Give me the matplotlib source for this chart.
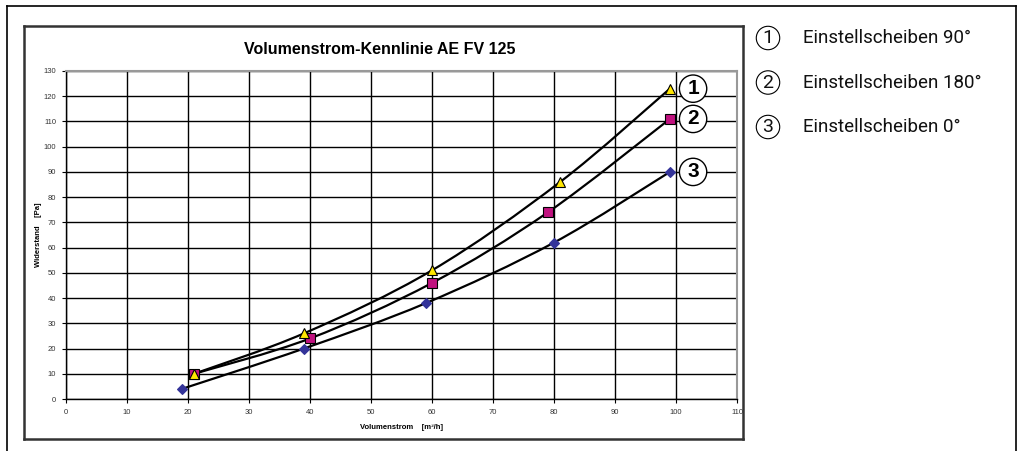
import matplotlib.pyplot as plt
import numpy as np
from matplotlib.path import Path
from matplotlib.patches import PathPatch
from matplotlib.lines import Line2D

# data
x_90 = [21, 39, 60, 81, 99]
y_90 = [10, 26, 51, 86, 123]
x_180 = [21, 40, 60, 79, 99]
y_180 = [10, 24, 46, 74, 111]
x_0 = [19, 39, 59, 80, 99]
y_0 = [4, 20, 38, 62, 90]
labels = ['Einstellscheiben 90°', 'Einstellscheiben 180°', 'Einstellscheiben 0°']
nums = ['1', '2', '3']


def smooth_path(xs, ys):
    # Excel-like smoothed line: cubic bezier segments through the points
    p = np.column_stack([xs, ys]).astype(float)
    ext = np.vstack([p[0], p, p[-1]])
    verts = [tuple(p[0])]
    codes = [Path.MOVETO]
    for i in range(len(p) - 1):
        a, b, c, d = ext[i], ext[i + 1], ext[i + 2], ext[i + 3]
        c1 = b + (c - a) / 6.0
        c2 = c - (d - b) / 6.0
        verts += [tuple(c1), tuple(c2), tuple(c)]
        codes += [Path.CURVE4] * 3
    return Path(verts, codes)


fig = plt.figure(figsize=(10.23, 4.51), dpi=100)
W, H = 1023, 451
ax = fig.add_axes([66 / W, 1 - 399 / H, (737 - 66) / W, (399 - 71) / H])

series = [(x_90, y_90, '^', '#FFE600', 'black', 7, 6),
          (x_180, y_180, 's', '#C0127F', 'black', 7, 5),
          (x_0, y_0, 'D', '#333399', '#333399', 5, 5)]
for xs, ys, m, fc, ec, ms, z in series:
    ax.add_patch(PathPatch(smooth_path(xs, ys), fc='none', ec='black', lw=1.6, zorder=3))
    ax.plot(xs, ys, ls='none', marker=m, ms=ms, mfc=fc, mec=ec, mew=0.8, zorder=z)

# circled numbers at the line ends
for (xs, ys, *_), n in zip(series, nums):
    ax.text(102.8, ys[-1], n, fontsize=15, ha='center', va='center', zorder=7,
            family='Liberation Sans', fontweight='bold',
            bbox=dict(boxstyle='circle,pad=0.2', fc='white', ec='black', lw=1))

ax.set_xlim(0, 110)
ax.set_ylim(0, 130)
ax.set_xticks(np.arange(0, 111, 10))
ax.set_yticks(np.arange(0, 131, 10))
ax.grid(True, color='black', lw=1)
ax.set_axisbelow(True)
for s in ['top', 'right']:
    ax.spines[s].set_color('#999999')
    ax.spines[s].set_linewidth(1.5)
for s in ['left', 'bottom']:
    ax.spines[s].set_color('black')
    ax.spines[s].set_linewidth(1)
ax.tick_params(labelsize=5.5, labelcolor='#333333', length=3, width=0.8, pad=4)
for t in ax.get_xticklabels() + ax.get_yticklabels():
    t.set_family('Liberation Sans')

ax.set_xlabel('Volumenstrom    [m³/h]', fontsize=5.5, fontweight='bold',
              family='Liberation Sans', labelpad=6)
ax.set_ylabel('Widerstand    [Pa]', fontsize=5.5, fontweight='bold',
              family='Liberation Sans', labelpad=1)
fig.text(380 / W, 1 - 49 / H, 'Volumenstrom-Kennlinie AE FV 125', fontsize=11.5,
         fontweight='bold', family='Liberation Sans', ha='center', va='center')

# frames
def line(x0, y0, x1, y1, lw, c):
    fig.add_artist(Line2D([x0 / W, x1 / W], [1 - y0 / H, 1 - y1 / H], lw=lw, color=c))

line(7, 6, 1016, 6, 1.2, 'black')
line(7, 6, 7, 451, 1.2, 'black')
line(1016, 6, 1016, 451, 1.2, 'black')
line(24, 26, 743, 26, 1.8, '#333333')
line(24, 26, 24, 439, 1.8, '#333333')
line(743, 26, 743, 439, 1.8, '#333333')
line(24, 439, 743, 439, 1.8, '#333333')

# legend on the right
for i, (n, lab) in enumerate(zip(nums, labels)):
    yy = 1 - (38 + 44.5 * i) / H
    fig.text(768 / W, yy, n, fontsize=14, ha='center', va='center', family='Roboto',
             color='#111111',
             bbox=dict(boxstyle='circle,pad=0.14', fc='white', ec='black', lw=0.8))
    fig.text(803 / W, yy, lab, fontsize=13.5, ha='left', va='center', family='Roboto',
             color='#111111')

fig.savefig('out.png', dpi=100)
